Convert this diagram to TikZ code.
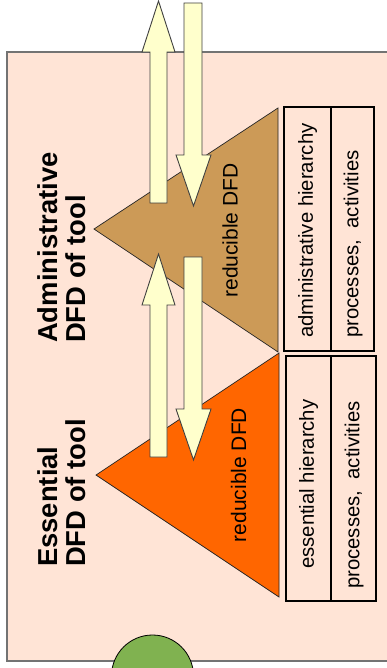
\documentclass[tikz,border=0pt]{standalone}
\usepackage{fontspec}
\setmainfont{Liberation Sans}
\definecolor{peach}{RGB}{255,228,214}
\definecolor{tanbrown}{RGB}{204,154,87}
\definecolor{hotorange}{RGB}{255,102,0}
\definecolor{cream}{RGB}{255,255,204}
\definecolor{leaf}{RGB}{128,178,80}
\begin{document}
\begin{tikzpicture}[x=1pt,y=-1pt,
  panel/.style={fill=peach,draw=black!55,line width=1.5pt},
  pyramid/.style={draw=black!85,line width=0.7pt},
  block/.style={fill=cream,draw=black!75,line width=0.9pt,line join=miter},
  grid/.style={draw=black,line width=1.4pt},
  title/.style={rotate=90,anchor=west,inner sep=0pt,align=left,
    font=\fontsize{27.4}{28}\selectfont\bfseries},
  lbl/.style={rotate=90,inner sep=0pt,font=\fontsize{21}{24}\selectfont},
  cell/.style={rotate=90,anchor=west,inner sep=0pt,font=\fontsize{20.3}{24}\selectfont}]
\useasboundingbox (0,0) rectangle (387,668);
\fill[white] (0,0) rectangle (387,668);

% framed panel
\draw[panel] (7,52) rectangle (396,661);

% the two DFD pyramids
\draw[pyramid,fill=tanbrown] (94,229) -- (278,108) -- (278,352) -- cycle;
\draw[pyramid,fill=hotorange] (96,475) -- (279,353) -- (279,597) -- cycle;

% headings
\node[title] (admTitle) at (61.5,343) {Administrative\\DFD of tool};
\node[title] (essTitle) at (61.5,567) {Essential\\DFD of tool};

% labels inside the pyramids
\node[lbl] (admRed) at (230,230.5) {reducible DFD};
\node[lbl] (essRed) at (238.5,475) {reducible DFD};

% hierarchy tables
\draw[grid] (284,107) rectangle (374,351);
\draw[grid] (331,107) -- (331,351);
\draw[grid] (286,356) rectangle (376,601);
\draw[grid] (331,356) -- (331,601);

\node[cell] (admHier) at (307.5,338) {administrative hierarchy};
\node[cell] (admProc) at (353,338) {processes,\ \ activities};
\node[cell] (essHier) at (308.5,569) {essential hierarchy};
\node[cell] (essProc) at (354,589) {processes,\ \ activities};

% block arrows between the levels
\draw[block] (150,203) -- (150,52) -- (142,52) -- (158.5,1) -- (175,52) -- (167,52) -- (167,203) -- cycle;
\draw[block] (184,3) -- (202,3) -- (202,155) -- (211,155) -- (193.5,206) -- (176,155) -- (184,155) -- cycle;
\draw[block] (150,457) -- (150,305) -- (142,305) -- (158.5,254) -- (175,305) -- (167,305) -- (167,457) -- cycle;
\draw[block] (184,257) -- (202,257) -- (202,409) -- (211,409) -- (193.5,460) -- (176,409) -- (184,409) -- cycle;

% tool disc at the bottom edge
\node[circle,fill=leaf,draw=black,line width=0.8pt,minimum size=82pt,inner sep=0pt] (tool) at (152.5,676) {};
\end{tikzpicture}
\end{document}
